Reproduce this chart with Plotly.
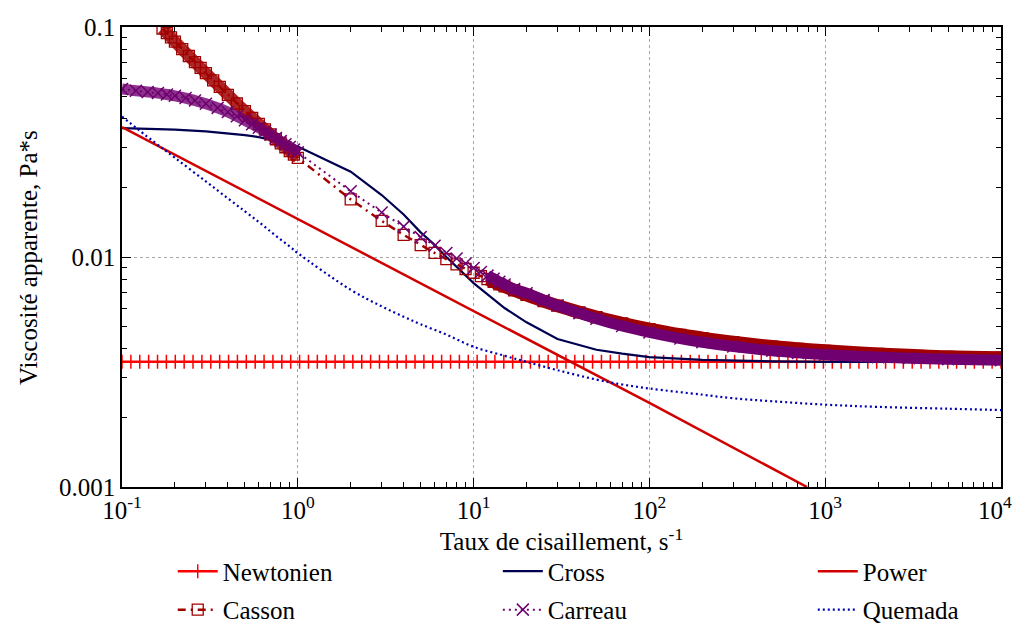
import numpy as np
import plotly.graph_objects as go

# ---------------- data ----------------
newtonien_viscosity = 0.0035
newtonien_x = np.logspace(-1, 4, 100)          # sampling grid of the constant model
newtonien_y = [newtonien_viscosity] * len(newtonien_x)

cross_x = [0.1, 0.2, 0.3, 0.4, 0.5, 0.6, 0.7, 0.8, 0.9, 1, 2, 3, 4, 5, 6, 7, 8, 9, 10,
           15, 20, 30, 50, 70, 100, 200, 300, 500, 1000, 2000, 5000, 10000]
cross_y = [0.0363, 0.0358, 0.0352, 0.0346, 0.0339, 0.0332, 0.0324, 0.0317, 0.0310, 0.0302,
           0.0235, 0.0186, 0.0153, 0.0128, 0.0113, 0.0100, 0.0091, 0.0083, 0.0077,
           0.0060, 0.0052, 0.0044, 0.00395, 0.0038, 0.00367, 0.00357, 0.00354, 0.00352,
           0.00350, 0.00350, 0.00350, 0.00350]

power_x = [0.1, 1, 10, 100, 788]
power_y = [0.0367, 0.0146, 0.0058, 0.00232, 0.001]

casson_x = [0.17, 0.18, 0.19, 0.2, 0.22, 0.24, 0.26, 0.28, 0.3, 0.33, 0.36, 0.4, 0.45, 0.5,
            0.55, 0.6, 0.65, 0.7, 0.75, 0.8, 0.85, 0.9, 0.95, 1,
            2, 3, 4, 5, 6, 7, 8, 9, 10, 11, 12, 13, 14, 15, 17, 20, 25, 30, 40, 50, 70,
            100, 150, 200, 300, 500, 700, 1000, 2000, 3000, 5000, 10000]
casson_y = [0.0985, 0.0941, 0.0901, 0.0864, 0.0801, 0.0748, 0.0703, 0.0664, 0.0630, 0.0586,
            0.0549, 0.0507, 0.0465, 0.0431, 0.0403, 0.0379, 0.0359, 0.0341, 0.0325, 0.0312,
            0.0300, 0.0289, 0.0279, 0.0270,
            0.0178, 0.01435, 0.01248, 0.01127, 0.01042, 0.00978, 0.00928, 0.00887, 0.00854,
            0.00826, 0.00801, 0.00780, 0.00761, 0.00745, 0.00717, 0.00684, 0.00643, 0.00614,
            0.00575, 0.00548, 0.00515, 0.00486, 0.00459, 0.00444, 0.00426, 0.00408, 0.00399,
            0.00391, 0.00379, 0.00374, 0.00368, 0.00365]

carreau_x = [0.1, 0.12, 0.14, 0.16, 0.18, 0.2, 0.23, 0.26, 0.3, 0.35, 0.4, 0.45, 0.5, 0.55,
             0.6, 0.65, 0.7, 0.75, 0.8, 0.85, 0.9, 0.95, 1,
             2, 3, 4, 5, 6, 7, 8, 9, 10, 11, 12, 13, 14, 15, 17, 20, 25, 30, 40, 50, 70,
             100, 150, 200, 300, 500, 700, 1000, 2000, 3000, 5000, 10000]
carreau_y = [0.0538, 0.0528, 0.0522, 0.0516, 0.0509, 0.0502, 0.0491, 0.0479, 0.0464, 0.0445,
             0.0427, 0.0409, 0.0393, 0.0378, 0.0365, 0.0352, 0.0340, 0.0329, 0.0319, 0.0309,
             0.0301, 0.0293, 0.0285,
             0.0193, 0.0156, 0.01355, 0.0122, 0.0112, 0.0104, 0.00985, 0.00937, 0.00895,
             0.0086, 0.0083, 0.00805, 0.0078, 0.0076, 0.00725, 0.00696, 0.0065, 0.00615,
             0.0057, 0.00539, 0.00501, 0.0047, 0.00442, 0.00426, 0.00408, 0.00391, 0.00383,
             0.00376, 0.00367, 0.00363, 0.00359, 0.00356]

quemada_x = [0.1, 0.15, 0.2, 0.3, 0.4, 0.5, 0.6, 0.7, 0.8, 0.9, 1, 2, 3, 4, 5, 7, 10, 15,
             20, 30, 50, 70, 100, 200, 300, 500, 1000, 2000, 5000, 10000]
quemada_y = [0.0408, 0.0319, 0.0270, 0.0213, 0.0180, 0.0158, 0.0142, 0.0129, 0.0119, 0.0111,
             0.0104, 0.0072, 0.0061, 0.0055, 0.0051, 0.0046, 0.00407, 0.00372, 0.00350,
             0.00322, 0.00293, 0.00279, 0.00268, 0.00252, 0.00243, 0.00236, 0.00228,
             0.00223, 0.00219, 0.00216]

x_tickvals = [0.1, 1, 10, 100, 1000, 10000]
x_ticktext = ["10<sup>-1</sup>", "10<sup>0</sup>", "10<sup>1</sup>", "10<sup>2</sup>",
              "10<sup>3</sup>", "10<sup>4</sup>\u00a0\u00a0"]
y_tickvals = [0.001, 0.01, 0.1]
y_ticktext = ["0.001", "0.01", "0.1"]
x_title = "Taux de cisaillement, s<sup>-1</sup>"
y_title = "Viscosité apparente, Pa*s"

# ---------------- styles ----------------
FONT = "Liberation Serif"
FS = 25
C_NEWT = "#ff0000"
C_CROSS = "#000050"
C_POWER = "#d00000"
C_CASSON = "#a00000"
C_CARREAU = "#700070"
C_QUEMADA = "#0000b0"


def segment(xs, ys, lo, hi):
    pts = [(a, b) for a, b in zip(xs, ys) if lo <= a <= hi]
    return [p[0] for p in pts], [p[1] for p in pts]


fig = go.Figure()

fig.add_trace(go.Scatter(
    x=newtonien_x, y=newtonien_y, name="Newtonien", mode="lines+markers",
    line=dict(color=C_NEWT, width=2.5),
    marker=dict(symbol="cross-thin-open", size=10, line=dict(color="#ff4a4a", width=1.5)),
    legend="legend", legendgroup="n"))

fig.add_trace(go.Scatter(
    x=cross_x, y=cross_y, name="Cross", mode="lines",
    line=dict(color=C_CROSS, width=2.2), legend="legend2", legendgroup="cr"))

fig.add_trace(go.Scatter(
    x=power_x, y=power_y, name="Power", mode="lines",
    line=dict(color=C_POWER, width=2.5), legend="legend3", legendgroup="p"))

# Casson: dense overlapping markers form bands in the reference
for lo, hi, w, op in [(0.17, 1, 12, 0.85), (12, 10000, 13, 1.0)]:
    bx, by = segment(casson_x, casson_y, lo, hi)
    fig.add_trace(go.Scatter(x=bx, y=by, mode="lines", showlegend=False, hoverinfo="skip",
                             opacity=op, line=dict(color=C_CASSON, width=w, shape="spline")))
fig.add_trace(go.Scatter(
    x=casson_x, y=casson_y, name="Casson", mode="lines+markers",
    line=dict(color=C_CASSON, width=2.5, dash="8px,5px,2px,5px"),
    marker=dict(symbol="square-open", size=11, color=C_CASSON, line=dict(width=1.3)),
    legend="legend", legendgroup="ca"))

for lo, hi, w, op in [(0.1, 1, 11, 0.8), (12, 10000, 11, 1.0)]:
    bx, by = segment(carreau_x, carreau_y, lo, hi)
    fig.add_trace(go.Scatter(x=bx, y=by, mode="lines", showlegend=False, hoverinfo="skip",
                             opacity=op, line=dict(color=C_CARREAU, width=w, shape="spline")))
fig.add_trace(go.Scatter(
    x=carreau_x, y=carreau_y, name="Carreau", mode="lines+markers",
    line=dict(color=C_CARREAU, width=2, dash="2px,4px"),
    marker=dict(symbol="x-thin-open", size=12, color=C_CARREAU, line=dict(width=1.5, color=C_CARREAU)),
    legend="legend2", legendgroup="car"))

fig.add_trace(go.Scatter(
    x=quemada_x, y=quemada_y, name="Quemada", mode="lines",
    line=dict(color=C_QUEMADA, width=2.2, dash="2px,3px", shape="spline"),
    legend="legend3", legendgroup="q"))

axis_common = dict(
    showline=True, linecolor="black", linewidth=1.5, mirror="allticks",
    ticks="inside", ticklen=9, tickwidth=1.2, tickcolor="black",
    showgrid=True, gridcolor="#a8a8a8", griddash="dot", gridwidth=1,
    zeroline=False, ticklabeloverflow="allow",
    tickfont=dict(family=FONT, size=FS, color="black"),
    minor=dict(ticks="inside", ticklen=5, tickwidth=1, tickcolor="black", dtick="D1", showgrid=False),
)

fig.update_xaxes(
    type="log", range=[-1, 4], tickmode="array", tickvals=x_tickvals, ticktext=x_ticktext,
    title=dict(text=x_title, font=dict(family=FONT, size=FS, color="black"), standoff=2),
    **axis_common)
fig.update_yaxes(
    type="log", range=[-3, -1], tickmode="array", tickvals=y_tickvals, ticktext=y_ticktext,
    **axis_common)

fig.add_annotation(text=y_title, xref="paper", yref="paper", x=-0.107, y=0.5,
                   xanchor="center", yanchor="middle", textangle=-90, showarrow=False,
                   font=dict(family=FONT, size=FS, color="black"))

leg_common = dict(orientation="v", yanchor="top", xanchor="left",
                  yref="container", xref="container", y=0.124,
                  font=dict(family=FONT, size=FS, color="black"),
                  bgcolor="rgba(0,0,0,0)", tracegroupgap=3, itemwidth=40)

fig.update_layout(
    width=1016, height=626,
    margin=dict(l=122, r=15, t=27, b=139, autoexpand=False),
    plot_bgcolor="white", paper_bgcolor="white",
    font=dict(family=FONT, color="black", size=FS),
    legend=dict(x=0.17, **leg_common),
    legend2=dict(x=0.49, **leg_common),
    legend3=dict(x=0.80, **leg_common),
)

fig.write_html("out.html")
